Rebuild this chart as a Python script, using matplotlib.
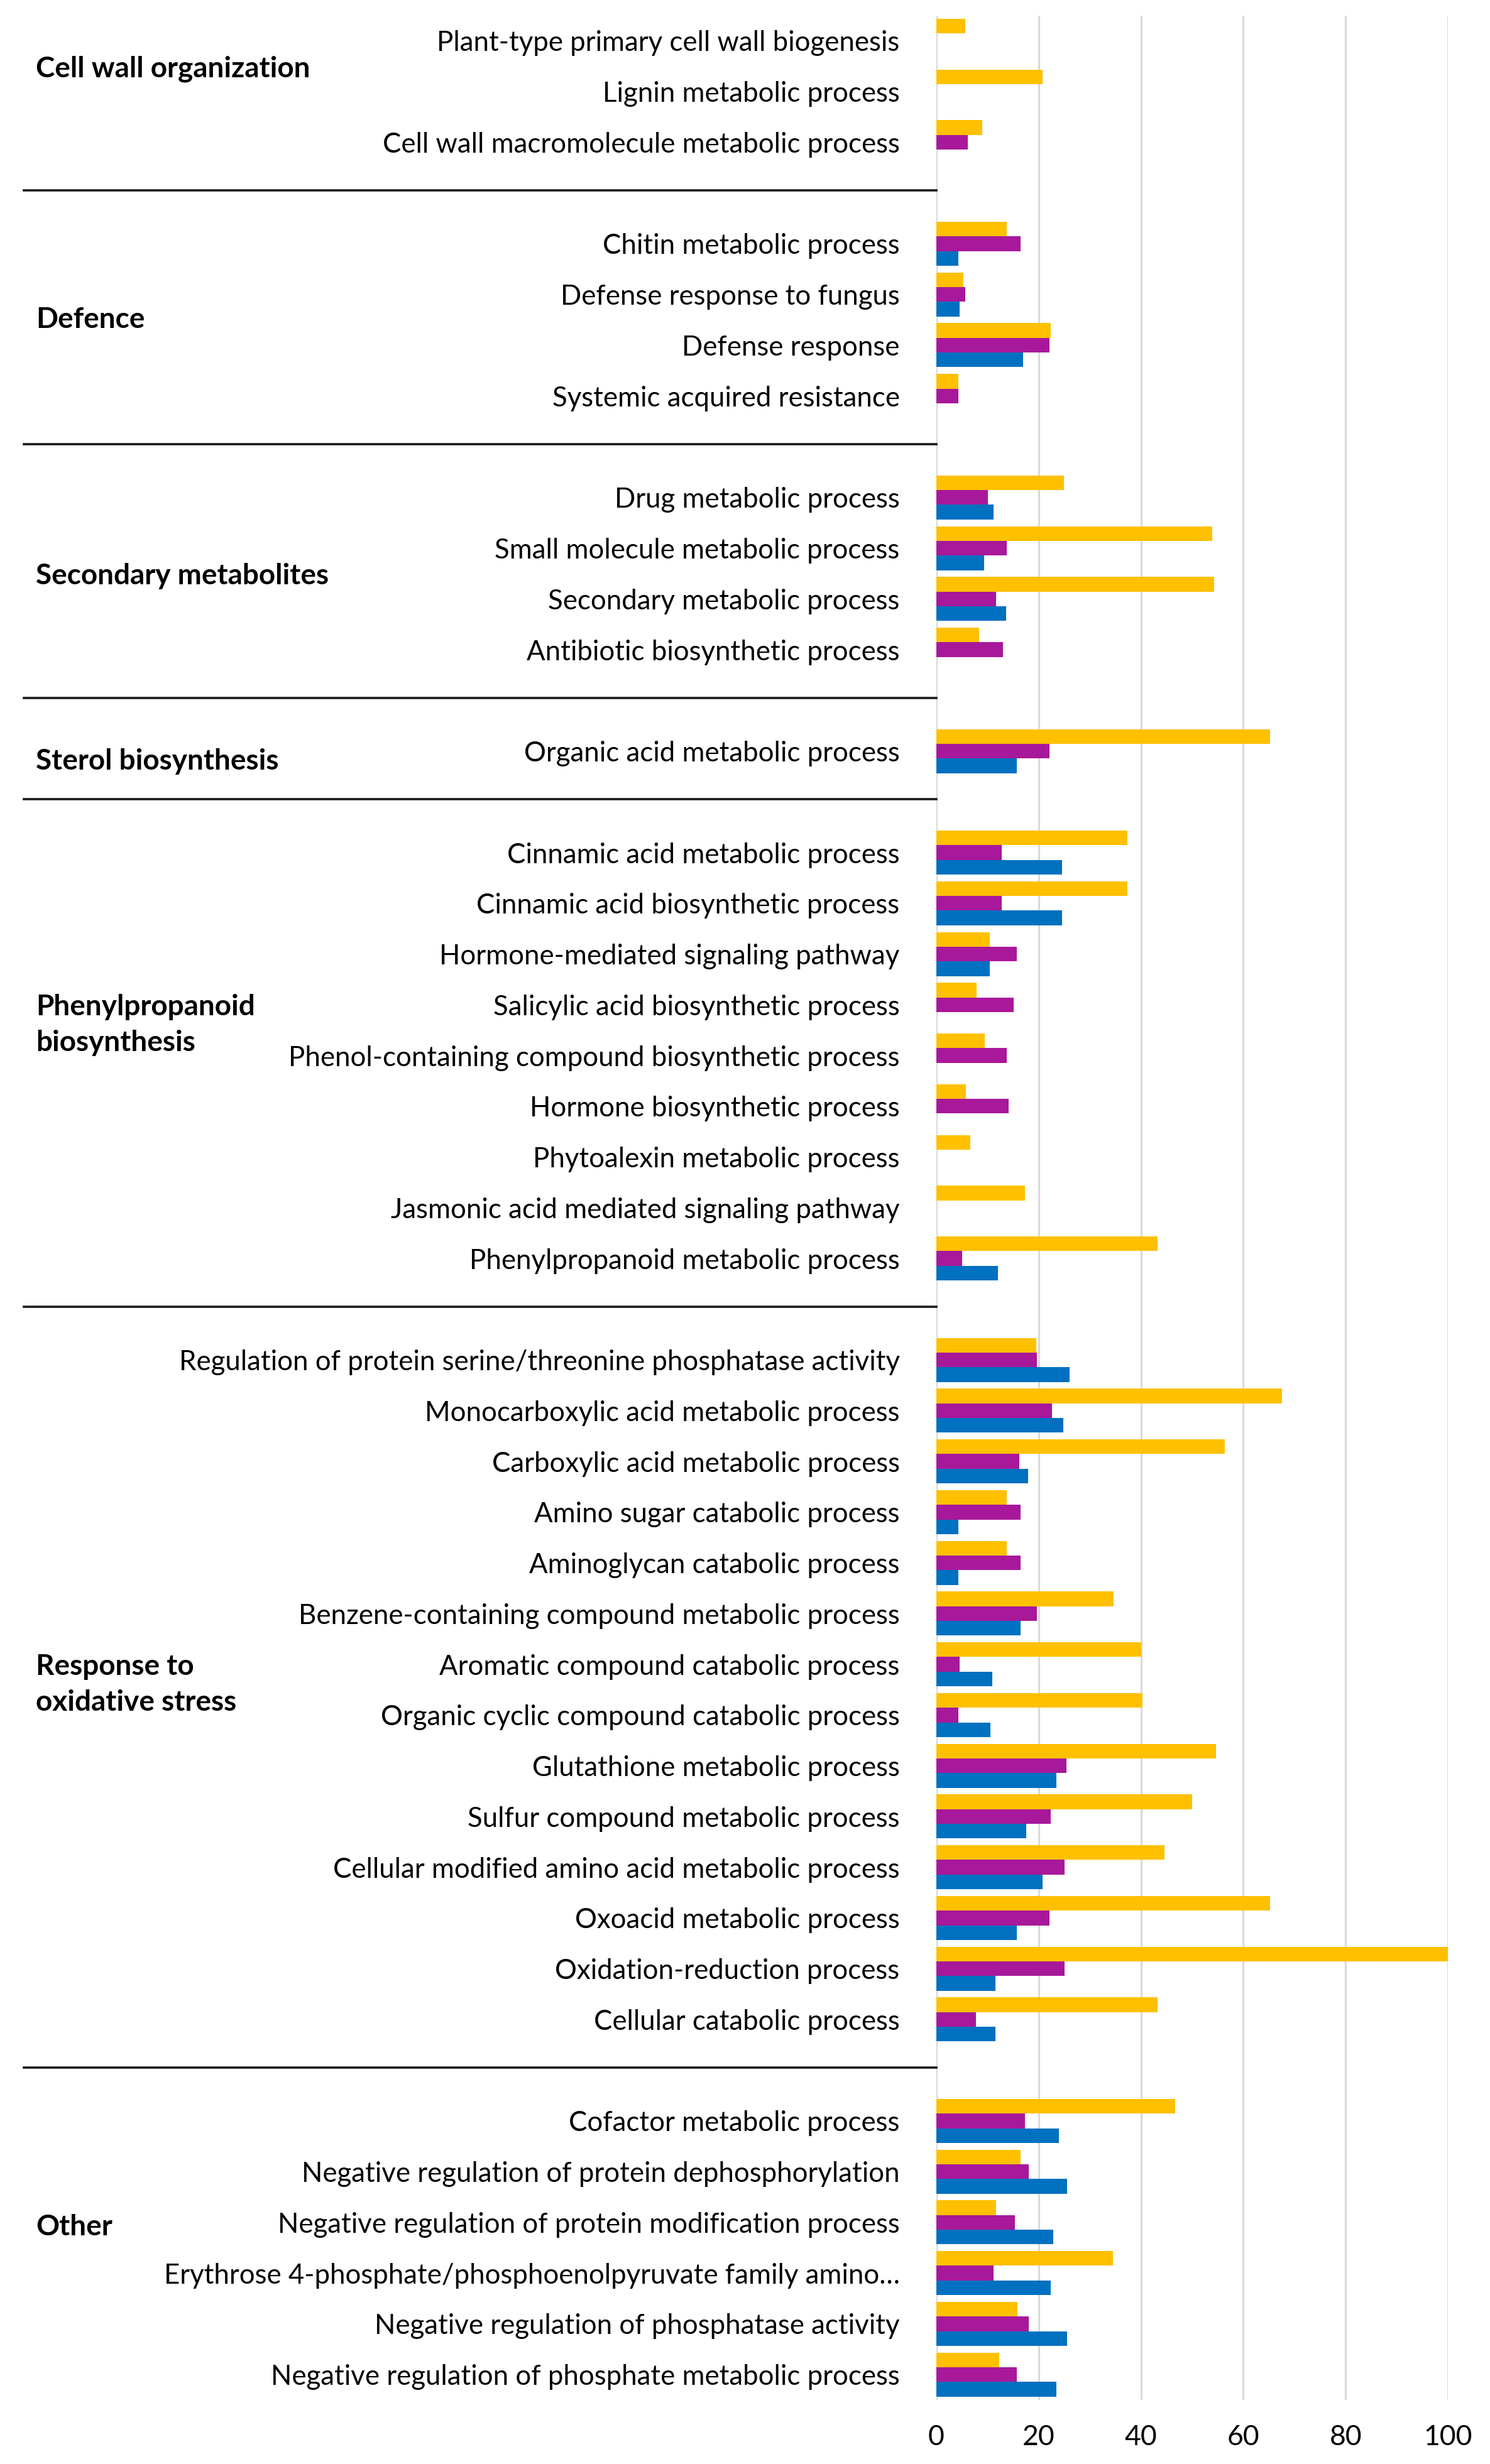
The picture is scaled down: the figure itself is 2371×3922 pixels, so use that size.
import numpy as np
import matplotlib
matplotlib.use("Agg")
import matplotlib.pyplot as plt
from matplotlib.lines import Line2D
from matplotlib.transforms import blended_transform_factory

plt.rcParams['font.family'] = ['Lato', 'DejaVu Sans']

# group headers and how many GO terms sit under each
groups = ['Cell wall organization', 'Defence', 'Secondary metabolites',
          'Sterol biosynthesis', 'Phenylpropanoid\nbiosynthesis',
          'Response to\noxidative stress', 'Other']
group_sizes = [3, 4, 4, 1, 9, 14, 6]

categories = [
    'Plant-type primary cell wall biogenesis',
    'Lignin metabolic process',
    'Cell wall macromolecule metabolic process',
    'Chitin metabolic process',
    'Defense response to fungus',
    'Defense response',
    'Systemic acquired resistance',
    'Drug metabolic process',
    'Small molecule metabolic process',
    'Secondary metabolic process',
    'Antibiotic biosynthetic process',
    'Organic acid metabolic process',
    'Cinnamic acid metabolic process',
    'Cinnamic acid biosynthetic process',
    'Hormone-mediated signaling pathway',
    'Salicylic acid biosynthetic process',
    'Phenol-containing compound biosynthetic process',
    'Hormone biosynthetic process',
    'Phytoalexin metabolic process',
    'Jasmonic acid mediated signaling pathway',
    'Phenylpropanoid metabolic process',
    'Regulation of protein serine/threonine phosphatase activity',
    'Monocarboxylic acid metabolic process',
    'Carboxylic acid metabolic process',
    'Amino sugar catabolic process',
    'Aminoglycan catabolic process',
    'Benzene-containing compound metabolic process',
    'Aromatic compound catabolic process',
    'Organic cyclic compound catabolic process',
    'Glutathione metabolic process',
    'Sulfur compound metabolic process',
    'Cellular modified amino acid metabolic process',
    'Oxoacid metabolic process',
    'Oxidation-reduction process',
    'Cellular catabolic process',
    'Cofactor metabolic process',
    'Negative regulation of protein dephosphorylation',
    'Negative regulation of protein modification process',
    'Erythrose 4-phosphate/phosphoenolpyruvate family amino\u2026',
    'Negative regulation of phosphatase activity',
    'Negative regulation of phosphate metabolic process',
]

# three series (top to bottom inside each group of bars)
yellow = [5.6, 20.8, 9.0,
          13.8, 5.3, 22.4, 4.3,
          25.0, 53.9, 54.3, 8.4,
          65.2,
          37.3, 37.3, 10.4, 7.9, 9.5, 5.8, 6.6, 17.3, 43.2,
          19.5, 67.6, 56.4, 13.8, 13.8, 34.6, 40.0, 40.3, 54.7, 50.0, 44.6, 65.2, 100.0, 43.2,
          46.7, 16.5, 11.7, 34.5, 15.9, 12.3]
purple = [0, 0, 6.1,
          16.5, 5.6, 22.1, 4.3,
          10.1, 13.8, 11.7, 13.0,
          22.1,
          12.8, 12.8, 15.7, 15.1, 13.8, 14.1, 0, 0, 5.0,
          19.7, 22.6, 16.2, 16.5, 16.5, 19.7, 4.5, 4.3, 25.4, 22.4, 25.1, 22.1, 25.1, 7.7,
          17.3, 18.1, 15.4, 11.2, 18.1, 15.7]
blue = [0, 0, 0,
        4.3, 4.5, 17.0, 0,
        11.2, 9.3, 13.6, 0,
        15.7,
        24.6, 24.6, 10.4, 0, 0, 0, 0, 0, 12.0,
        26.1, 24.8, 17.9, 4.3, 4.3, 16.5, 10.9, 10.6, 23.5, 17.6, 20.8, 15.7, 11.5, 11.5,
        24.0, 25.6, 22.9, 22.4, 25.6, 23.5]

x_ticks = [0, 20, 40, 60, 80, 100]

# slot positions: one empty slot between groups
pos = []
seps = []
k = 0
for i, n in enumerate(group_sizes):
    pos += list(range(k, k + n))
    k += n
    if i < len(group_sizes) - 1:
        seps.append(k)
        k += 1
n_slots = k
pos = np.array(pos, dtype=float)

# vertical shift of group headers relative to the group centre (in slots)
group_label_shift = [-0.45, 0.0, 0.05, 0.2, -0.6, -0.1, -0.4]

fig = plt.figure(figsize=(23.71, 39.22), dpi=100)
ax = fig.add_axes([0.6284, 0.0260, 0.9718 - 0.6284, 0.99373 - 0.0260])

h = 0.289
ax.barh(pos - h, yellow, height=h, color='#FFC000', linewidth=0)
ax.barh(pos, purple, height=h, color='#A8189A', linewidth=0)
ax.barh(pos + h, blue, height=h, color='#0070C0', linewidth=0)

ax.set_ylim(n_slots - 0.5, -0.5)
ax.set_xlim(0, 100)
ax.set_xticks(x_ticks)
ax.set_xticklabels([str(t) for t in x_ticks], fontsize=32)
ax.set_yticks(pos)
ax.set_yticklabels(categories, fontsize=31.5)
ax.tick_params(axis='y', length=0, pad=42)
ax.tick_params(axis='x', length=0, pad=28)
ax.grid(axis='x', color='#D9D9D9', linewidth=2.2)
ax.set_axisbelow(True)
for s in ax.spines.values():
    s.set_visible(False)

# group separator lines reaching from the left edge to the axis
tr = blended_transform_factory(fig.transFigure, ax.transData)
for s in seps:
    fig.add_artist(Line2D([38 / 2371, 0.6284], [s - 0.05, s - 0.05],
                          transform=tr, color='#1a1a1a', linewidth=2.6))

# group headers
start = 0
for g, n, shift in zip(groups, group_sizes, group_label_shift):
    ys = pos[start:start + n]
    fig.text(57 / 2371, ys.mean() + shift, g, transform=tr, fontsize=33,
             fontweight='bold', ha='left', va='center', linespacing=1.42)
    start += n

fig.savefig('out.png', dpi=100)
